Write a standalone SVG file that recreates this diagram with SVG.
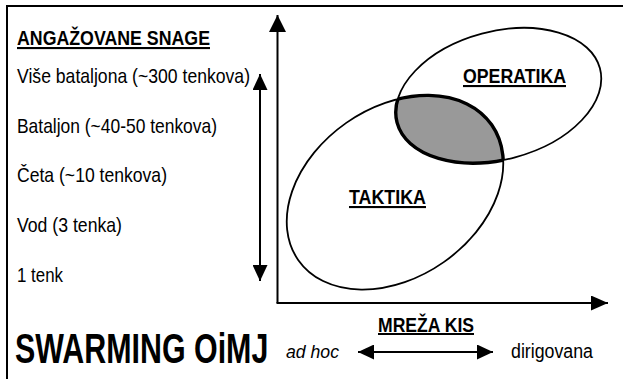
<svg xmlns="http://www.w3.org/2000/svg" width="623" height="379" viewBox="0 0 623 379">
  <style>
    .t { font-family: "Liberation Sans", Arial, sans-serif; fill: #000; }
    .b { font-weight: bold; text-decoration: underline; }
    .ln { stroke: #000; stroke-width: 2; fill: none; }
    .el { stroke: #000; stroke-width: 1.8; fill: none; }
  </style>
  <defs>
    <marker id="ahBig" markerUnits="userSpaceOnUse" markerWidth="17" markerHeight="17" refX="17" refY="8.5" orient="auto-start-reverse">
      <path d="M0,0 L17,8.5 L0,17 Z" fill="#000"/>
    </marker>
    <marker id="ahH" markerUnits="userSpaceOnUse" markerWidth="17" markerHeight="15" refX="17" refY="7.5" orient="auto-start-reverse">
      <path d="M0,0 L17,7.5 L0,15 Z" fill="#000"/>
    </marker>
    <marker id="ahS" markerUnits="userSpaceOnUse" markerWidth="16" markerHeight="15" refX="16" refY="7.5" orient="auto-start-reverse">
      <path d="M0,0 L16,7.5 L0,15 Z" fill="#000"/>
    </marker>
    <clipPath id="clipOp"><ellipse cx="498.5" cy="95.5" rx="105" ry="64" transform="rotate(-15 498.5 95.5)"/></clipPath>
    <clipPath id="clipTk"><ellipse cx="395" cy="192.5" rx="118" ry="85" transform="rotate(-35 395 192.5)"/></clipPath>
  </defs>
  <rect width="623" height="379" fill="#fff"/>

  <g id="frame">
    <path class="ln" d="M7,379 L7,6 L623,6"/>
  </g>

  <g id="legend">
    <text class="t b" x="17" y="45" font-size="21" textLength="193" lengthAdjust="spacingAndGlyphs">ANGAŽOVANE SNAGE</text>
    <text class="t" x="17" y="83" font-size="21" textLength="233" lengthAdjust="spacingAndGlyphs">Više bataljona (~300 tenkova)</text>
    <text class="t" x="17" y="133" font-size="21" textLength="200" lengthAdjust="spacingAndGlyphs">Bataljon (~40-50 tenkova)</text>
    <text class="t" x="17" y="182" font-size="21" textLength="150" lengthAdjust="spacingAndGlyphs">Četa (~10 tenkova)</text>
    <text class="t" x="17" y="232" font-size="21" textLength="105" lengthAdjust="spacingAndGlyphs">Vod (3 tenka)</text>
    <text class="t" x="17" y="282" font-size="21" textLength="46" lengthAdjust="spacingAndGlyphs">1 tenk</text>
  </g>

  <g id="title">
    <text class="t" transform="translate(15 363) scale(0.724 1)" x="0" y="0" font-size="42" font-weight="bold">SWARMING OiMJ</text>
  </g>

  <g id="lens">
    <g clip-path="url(#clipOp)">
      <ellipse cx="395" cy="192.5" rx="118" ry="85" transform="rotate(-35 395 192.5)" fill="#999" stroke="#000" stroke-width="3.4"/>
    </g>
    <g clip-path="url(#clipTk)">
      <ellipse cx="498.5" cy="95.5" rx="105" ry="64" transform="rotate(-15 498.5 95.5)" fill="none" stroke="#000" stroke-width="3.4"/>
    </g>
  </g>

  <g id="taktika">
    <ellipse class="el" cx="395" cy="192.5" rx="118" ry="85" transform="rotate(-35 395 192.5)"/>
    <text class="t b" x="349" y="204" font-size="21" textLength="77" lengthAdjust="spacingAndGlyphs">TAKTIKA</text>
  </g>

  <g id="operatika">
    <ellipse class="el" cx="498.5" cy="95.5" rx="105" ry="64" transform="rotate(-15 498.5 95.5)"/>
    <text class="t b" x="463" y="83" font-size="21" textLength="103" lengthAdjust="spacingAndGlyphs">OPERATIKA</text>
  </g>

  <g id="mreza">
    <text class="t b" x="378" y="332" font-size="20" textLength="96" lengthAdjust="spacingAndGlyphs">MREŽA KIS</text>
    <text class="t" x="286" y="358" font-size="19" font-style="italic" textLength="53" lengthAdjust="spacingAndGlyphs">ad hoc</text>
    <text class="t" x="511" y="358" font-size="20" textLength="82" lengthAdjust="spacingAndGlyphs">dirigovana</text>
  </g>

  <g id="connectors">
    <path class="ln" d="M277.5,303 L277.5,15" marker-end="url(#ahBig)"/>
    <path class="ln" d="M276.5,303 L608,303" marker-end="url(#ahH)"/>
    <path class="ln" d="M260,74 L260,281" marker-start="url(#ahS)" marker-end="url(#ahS)"/>
    <path class="ln" d="M358,352 L493,352" marker-start="url(#ahS)" marker-end="url(#ahS)"/>
  </g>
</svg>
